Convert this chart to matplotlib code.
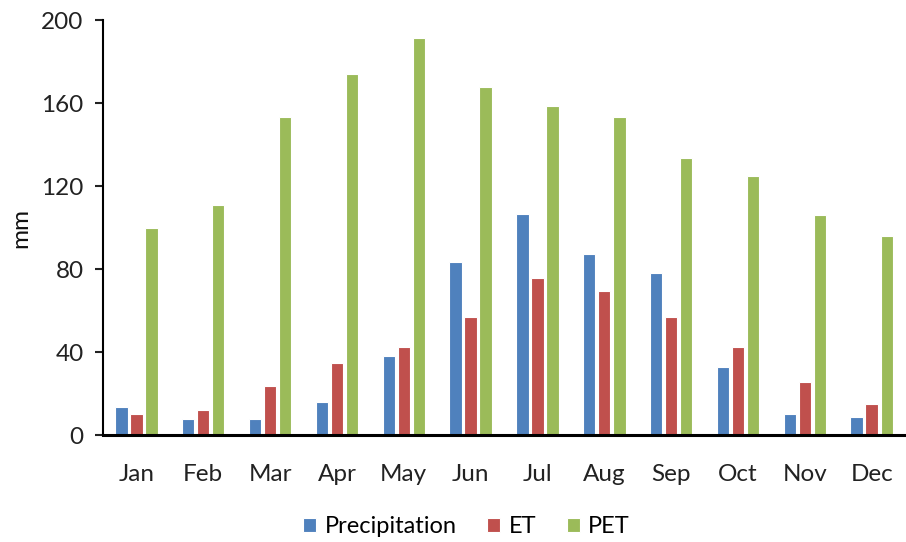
import numpy as np
import matplotlib
matplotlib.use("Agg")
import matplotlib.pyplot as plt

months = ["Jan", "Feb", "Mar", "Apr", "May", "Jun",
          "Jul", "Aug", "Sep", "Oct", "Nov", "Dec"]
precipitation = [13.4, 7.7, 7.7, 15.8, 38, 83.6, 106.4, 87.3, 78, 33, 10, 8.8]
et = [10.1, 11.9, 23.8, 34.9, 42.3, 57, 75.6, 69.4, 57, 42.3, 25.4, 15.1]
pet = [100, 110.8, 153.5, 174, 191.3, 167.7, 158.5, 153.5, 133.7, 125, 105.8, 96]

plt.rcParams['font.family'] = ['Lato', 'DejaVu Sans']

fig = plt.figure(figsize=(9.06, 5.42), dpi=100)
ax = fig.add_axes([0.1137, 0.1974, 0.8853, 0.7656])

x = np.arange(len(months))
w = 0.185
step = 0.225
series = [("Precipitation", precipitation, "#4f81bd"),
          ("ET", et, "#c0504d"),
          ("PET", pet, "#9bbb59")]
for i, (name, vals, col) in enumerate(series):
    ax.bar(x + (i - 1) * step, vals, w, color=col, edgecolor="white",
           linewidth=0.8, label=name)

ax.set_xlim(-0.5, 11.5)
ax.set_ylim(0, 200)
ax.set_yticks(range(0, 201, 40))
ax.set_xticks(x)
ax.set_xticklabels(months)
ax.tick_params(axis="x", length=0, pad=21, labelsize=17.5, colors="#222222")
ax.tick_params(axis="y", length=6, width=1.5, pad=8, labelsize=17.5,
               colors="#222222")
for s in ["top", "right"]:
    ax.spines[s].set_visible(False)
ax.spines["left"].set_linewidth(1.5)
ax.spines["bottom"].set_linewidth(2.2)
ax.set_ylabel("mm", fontsize=17.5, labelpad=7, color="#111111")

# legend sits below the month labels, centred on the chart
fig.legend(loc="center", bbox_to_anchor=(0.515, 0.028), ncol=3,
           frameon=False, fontsize=17, handlelength=0.55, handleheight=0.55,
           handletextpad=0.35, columnspacing=1.3)

fig.savefig("out.png", dpi=100)
